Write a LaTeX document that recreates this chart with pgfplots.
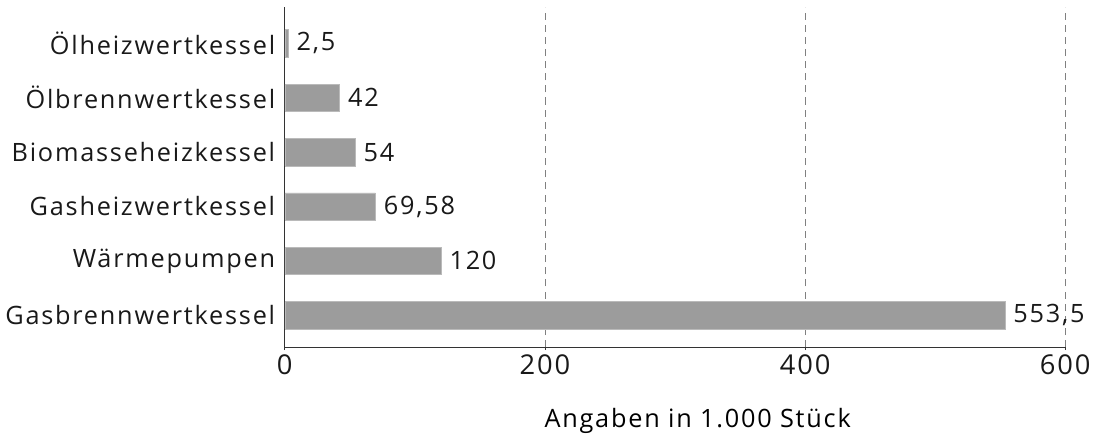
\documentclass[border=0pt]{standalone}
\usepackage{fontspec}
\setmainfont{Open Sans}[LetterSpace=7]
\usepackage{pgfplots}
\pgfplotsset{compat=1.18}
\definecolor{barg}{HTML}{9C9C9C}
\begin{document}
\begin{tikzpicture}
\begin{axis}[
  scale only axis,
  width=772bp, height=336bp,
  xbar,
  xmin=0, xmax=600,
  ymin=-0.586, ymax=5.66,
  bar width=27bp,
  axis lines*=left,
  axis line style={black!80, line width=0.8pt},
  xtick={0,200,400,600},
  ytick={0,1,2,3,4,5},
  yticklabels={Gasbrennwertkessel,Wärmepumpen,Gasheizwertkessel,Biomasseheizkessel,Ölbrennwertkessel,Ölheizwertkessel},
  y tick style={draw=none},
  x tick style={black!80, line width=0.8pt},
  tick align=outside,
  major tick length=3bp,
  xmajorgrids,
  grid style={black!50, line width=0.7pt, dash pattern=on 7bp off 5bp},
  /pgf/number format/assume math mode=true,
  yticklabel style={font=\fontsize{25bp}{29bp}\selectfont, black!90, xshift=-3bp},
  xticklabel style={font=\fontsize{27bp}{31bp}\selectfont, black!90, yshift=-1bp},
  xlabel={Angaben in 1.000 Stück},
  xlabel style={font=\fontsize{25bp}{29bp}\selectfont, at={(axis description cs:0.529,0)}, anchor=north, yshift=-57bp},
  nodes near coords,
  point meta=explicit symbolic,
  nodes near coords style={font=\fontsize{25bp}{29bp}\selectfont, black!90, anchor=west, xshift=5bp},
]
\addplot[fill=barg, draw=barg!70!white, line width=0.5pt] coordinates {
 (553.5,0) [553,5]
 (120,1) [120]
 (69.58,2) [69,58]
 (54,3) [54]
 (42,4) [42]
 (2.5,5) [2,5]
};
\end{axis}
\path (current bounding box.south west) ++(-2bp,-2bp) (current bounding box.north east) ++(8bp,7bp);
\end{tikzpicture}
\end{document}
